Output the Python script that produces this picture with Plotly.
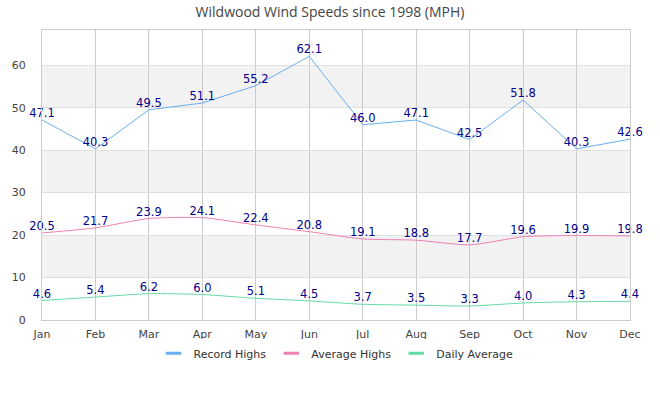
import plotly.graph_objects as go

months = ["Jan", "Feb", "Mar", "Apr", "May", "Jun", "Jul", "Aug", "Sep", "Oct", "Nov", "Dec"]
record_highs = [47.1, 40.3, 49.5, 51.1, 55.2, 62.1, 46.0, 47.1, 42.5, 51.8, 40.3, 42.6]
average_highs = [20.5, 21.7, 23.9, 24.1, 22.4, 20.8, 19.1, 18.8, 17.7, 19.6, 19.9, 19.8]
daily_average = [4.6, 5.4, 6.2, 6.0, 5.1, 4.5, 3.7, 3.5, 3.3, 4.0, 4.3, 4.4]
bands = [(10, 20), (30, 40), (50, 60)]

fig = go.Figure()
series = [
    ("Record Highs", record_highs, "#6aaef0", "linear"),
    ("Average Highs", average_highs, "#f07fb4", "spline"),
    ("Daily Average", daily_average, "#62dca6", "spline"),
]
for name, vals, col, shape in series:
    fig.add_trace(go.Scatter(
        x=list(range(len(months))), y=vals, name=name, mode="lines+text",
        line=dict(color=col, width=1, shape=shape, smoothing=0.6),
        text=[f"{v:.1f}" for v in vals], textposition="top center",
        textfont=dict(color="#00008b", size=11.5, family="DejaVu Sans"),
        cliponaxis=False, legendgroup=name, showlegend=False,
    ))
    # legend entry with a short thick dash
    fig.add_trace(go.Scatter(
        x=[None], y=[None], name=name, mode="markers", legendgroup=name,
        marker=dict(symbol="line-ew", size=11, line=dict(color=col, width=3)),
    ))

for lo, hi in bands:
    fig.add_shape(type="rect", xref="paper", yref="y", x0=0, x1=1, y0=lo, y1=hi,
                  fillcolor="#f2f2f2", line=dict(width=0), layer="below")

fig.update_layout(
    width=660, height=400,
    margin=dict(l=40, r=30, t=30, b=80),
    paper_bgcolor="white", plot_bgcolor="white",
    title=dict(text="Wildwood Wind Speeds since 1998 (MPH)", x=0.5, xanchor="center",
               y=0.982, yanchor="top",
               font=dict(family="Open Sans", size=14, color="#444")),
    font=dict(family="DejaVu Sans", size=11, color="#444"),
    showlegend=True,
    legend=dict(orientation="h", x=0.5, xanchor="center", y=-0.065, yanchor="top",
                font=dict(size=11, color="#333"), itemwidth=30),
    xaxis=dict(tickmode="array", tickvals=list(range(len(months))), ticktext=months,
               range=[0, 11], showgrid=True, gridcolor="#cccccc", gridwidth=1,
               showline=True, linecolor="#cccccc", mirror=True, zeroline=False,
               ticks="", ticklabelstandoff=4),
    yaxis=dict(range=[0, 68.3], dtick=10, showgrid=True, gridcolor="#e0e0e0",
               showline=True, linecolor="#cccccc", mirror=True, zeroline=False,
               ticks="", ticklabelstandoff=13),
)

fig.write_html("out.html")
